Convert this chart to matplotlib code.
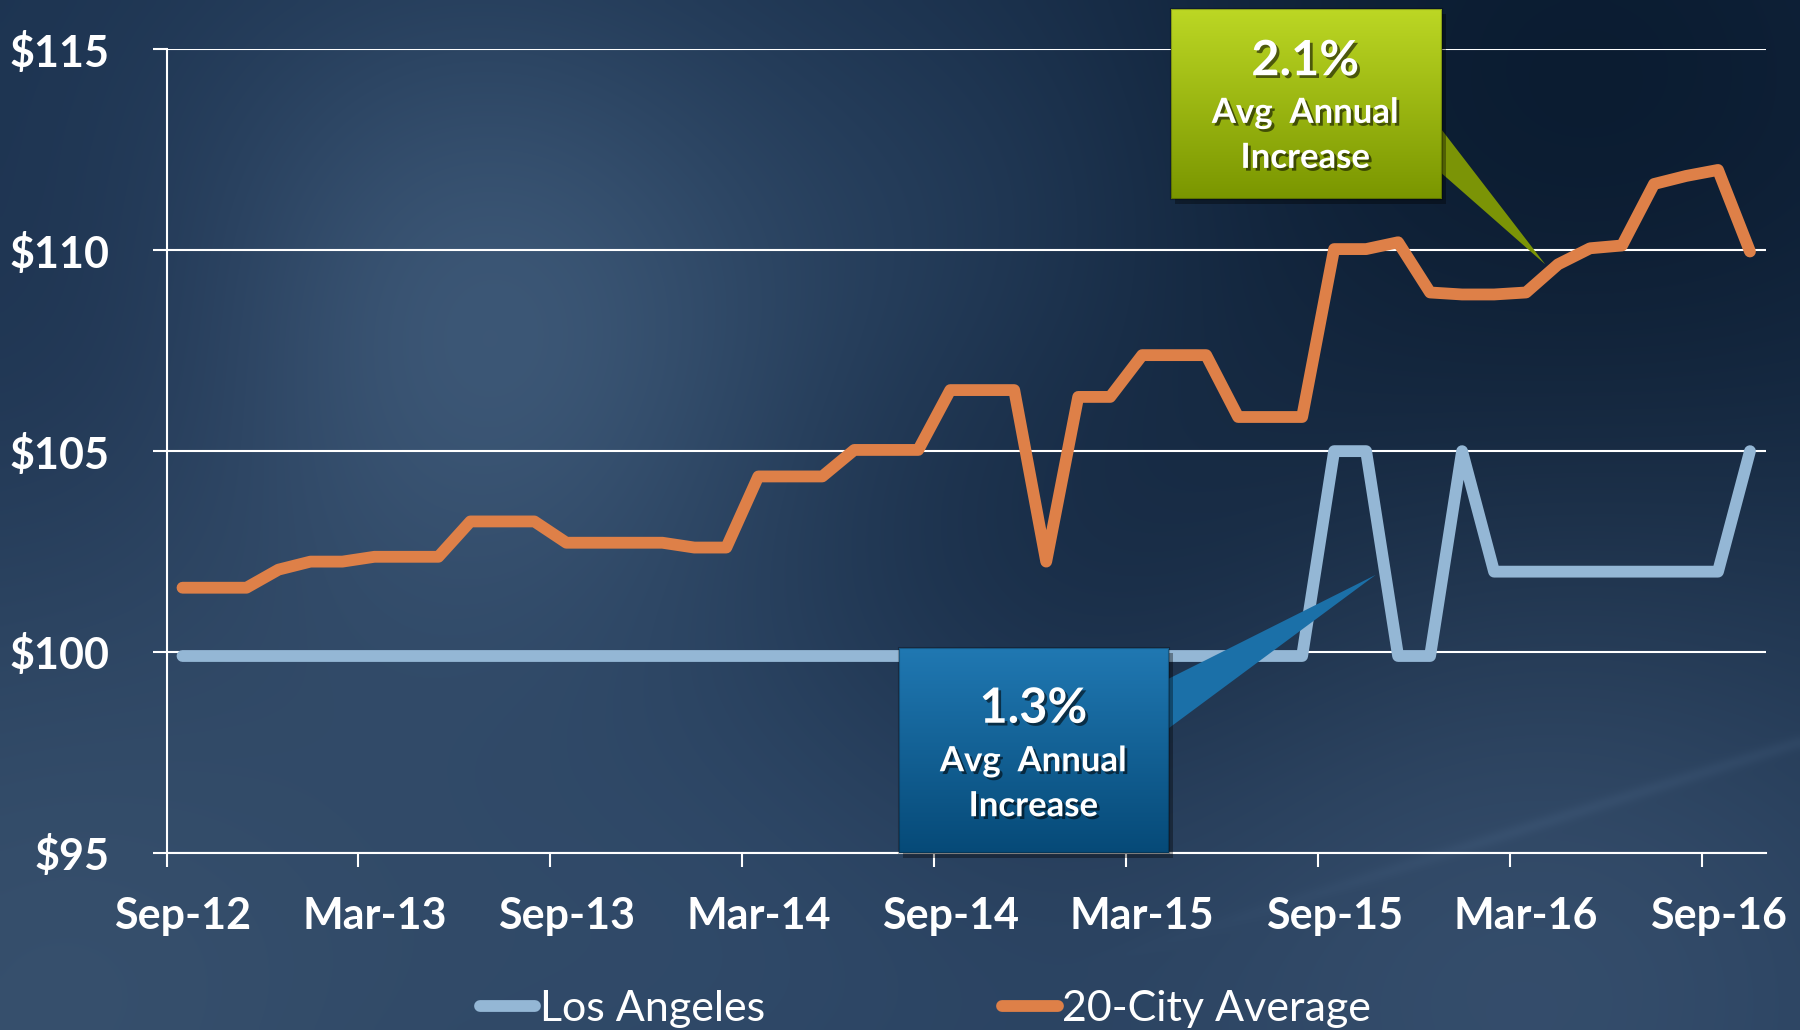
import numpy as np
import matplotlib
matplotlib.use('Agg')
import matplotlib.pyplot as plt
import matplotlib.patheffects as pe
from matplotlib.patches import Rectangle, Polygon
from matplotlib.lines import Line2D

# data
months = ['Sep-12', 'Mar-13', 'Sep-13', 'Mar-14', 'Sep-14', 'Mar-15', 'Sep-15', 'Mar-16', 'Sep-16']
city20 = [101.6, 101.6, 101.6, 102.05, 102.25, 102.25, 102.37, 102.37, 102.37,
          103.25, 103.25, 103.25, 102.72, 102.72, 102.72, 102.72, 102.6, 102.6,
          104.37, 104.37, 104.37, 105.03, 105.03, 105.03, 106.52, 106.52, 106.52,
          102.25, 106.35, 106.35, 107.39, 107.39, 107.39, 105.85, 105.85, 105.85,
          110.03, 110.03, 110.2, 108.95, 108.9, 108.9, 108.95, 109.65, 110.05,
          110.12, 111.65, 111.85, 112.0, 109.97]
los_angeles = [99.9] * 36 + [105.0, 105.0, 99.9, 99.9, 105.0] + [102.0] * 8 + [105.0]
yticks = [95, 100, 105, 110, 115]

orange = '#de8048'
lightblue = '#94b7d5'
white = '#ffffff'
font = 'Lato'

fig = plt.figure(figsize=(18, 10.3), dpi=100)

# background
bg = fig.add_axes([0, 0, 1, 1], zorder=-10)
h, w = 206, 360
yy, xx = np.mgrid[0:1:h * 1j, 0:1:w * 1j]
img = np.zeros((h, w, 3)) + np.array([28, 51, 80], float)
blobs = [
    (0.27, 0.30, 0.13, (30, 34, 36)),
    (0.02, 0.98, 0.22, (26, 28, 28)),
    (0.85, 0.92, 0.20, (26, 28, 30)),
    (0.88, 0.12, 0.22, (-18, -24, -32)),
    (0.60, 0.55, 0.12, (-8, -10, -12)),
    (0.55, 0.22, 0.10, (8, 10, 12)),
    (0.08, 0.35, 0.10, (-6, -8, -8)),
    (0.42, 0.92, 0.14, (12, 14, 16)),
]
for cx, cy, s, d in blobs:
    g = np.exp(-((xx - cx) ** 2 + ((yy - cy) * 0.58) ** 2) / (2 * s ** 2))
    img += g[..., None] * np.array(d, float)
# faint streak lower right
dist = np.abs((yy - 0.97) + 0.55 * (xx - 0.55)) / np.sqrt(1 + 0.55 ** 2)
streak = np.exp(-(dist / 0.005) ** 2) * np.clip((xx - 0.6) * 4, 0, 1)
img += streak[..., None] * np.array([8, 9, 10], float)
img = np.clip(img, 0, 255) / 255
bg.imshow(img, aspect='auto', extent=[0, 1, 0, 1], interpolation='bicubic')
bg.axis('off')

ax = fig.add_axes([0.0925, 0.172, 0.8886, 0.780])
ax.set_facecolor('none')

x = np.arange(len(city20))
ax.plot(x, los_angeles, color=lightblue, lw=8.5, solid_joinstyle='round',
        solid_capstyle='round', zorder=3)
ax.plot(x, city20, color=orange, lw=8.5, solid_joinstyle='round',
        solid_capstyle='round', zorder=4)

ax.set_xlim(-0.5, len(city20) - 0.5)
ax.set_ylim(95, 115)
ax.set_yticks(yticks)
ax.set_yticklabels([f'${v}' for v in yticks], fontsize=31, fontweight='bold',
                   color=white, family=font)
ax.set_xticks(np.arange(-0.5, len(city20), 6))
ax.set_xticklabels([])
ax.set_xticks(np.arange(0, len(city20), 6), minor=True)
ax.set_xticklabels(months, minor=True, fontsize=31, fontweight='bold',
                   color=white, family=font)
ax.tick_params(axis='x', which='major', length=10, width=1.5, color=white, direction='out')
ax.tick_params(axis='x', which='minor', length=0, pad=31)
ax.tick_params(axis='y', length=10, width=1.5, color=white, pad=31)
ax.grid(axis='y', color=white, lw=1.5)
for side in ['top', 'right']:
    ax.spines[side].set_visible(False)
ax.spines['left'].set_color(white)
ax.spines['left'].set_linewidth(1.5)
ax.spines['bottom'].set_color(white)
ax.spines['bottom'].set_linewidth(1.5)
ax.set_axisbelow(True)

shadow = [pe.SimplePatchShadow(offset=(2, -2), shadow_rgbFace='black', alpha=0.55), pe.Normal()]


def callout(x0, x1, y0, y1, top, bot, ptr_color, base, tip, lines):
    ptr = Polygon([(x1 - 0.2, base[0]), tip, (x1 - 0.2, base[1])], closed=True,
                  facecolor=ptr_color, edgecolor='none', zorder=6, clip_on=False)
    ax.add_patch(ptr)
    sh = Rectangle((x0 + 0.12, y0 - 0.12), x1 - x0, y1 - y0, facecolor='black',
                   alpha=0.35, edgecolor='none', zorder=6, clip_on=False)
    ax.add_patch(sh)
    rect = Rectangle((x0, y0), x1 - x0, y1 - y0, facecolor='none',
                     edgecolor=(0, 0, 0, 0.25), lw=1.5, zorder=8, clip_on=False)
    ax.add_patch(rect)
    grad = np.linspace(0, 1, 100)[:, None]
    c0 = np.array(matplotlib.colors.to_rgb(top))
    c1 = np.array(matplotlib.colors.to_rgb(bot))
    gimg = c0[None, None, :] * (1 - grad[..., None]) + c1[None, None, :] * grad[..., None]
    gimg = np.repeat(gimg, 2, axis=1)
    im = ax.imshow(gimg, extent=[x0, x1, y0, y1], aspect='auto', zorder=7,
                   interpolation='bilinear')
    clip = Rectangle((x0, y0), x1 - x0, y1 - y0, transform=ax.transData)
    im.set_clip_path(clip)
    for (tx, ty, txt, fs) in lines:
        ax.text(tx, ty, txt, ha='center', va='center', fontsize=fs,
                fontweight='bold', color=white, family=font, zorder=9,
                path_effects=shadow, clip_on=False)


callout(30.9, 39.37, 111.28, 116.0, '#bcd724', '#7a9600', '#7b9406',
        (113.2, 112.05), (42.6, 109.65),
        [(35.1, 114.72, '2.1%', 35), (35.1, 113.42, 'Avg  Annual', 25),
         (35.1, 112.3, 'Increase', 25)])
callout(22.4, 30.84, 95.0, 100.1, '#2078b2', '#064a78', '#1b70a8',
        (99.26, 97.99), (37.3, 101.92),
        [(26.6, 98.6, '1.3%', 35), (26.6, 97.28, 'Avg  Annual', 25),
         (26.6, 96.16, 'Increase', 25)])

ax.set_xlim(-0.5, len(city20) - 0.5)
ax.set_ylim(95, 115)

handles = [Line2D([], [], color=lightblue, lw=8.5, solid_capstyle='round'),
           Line2D([], [], color=orange, lw=8.5, solid_capstyle='round')]
leg = fig.legend(handles, ['Los Angeles', '20-City Average'], loc='center',
                 bbox_to_anchor=(0.514, 0.02), ncol=2, frameon=False,
                 handlelength=1.3, handletextpad=0.1, columnspacing=5.5,
                 prop={'family': font, 'size': 31})
for t in leg.get_texts():
    t.set_color(white)

fig.savefig('out.png', dpi=100)
